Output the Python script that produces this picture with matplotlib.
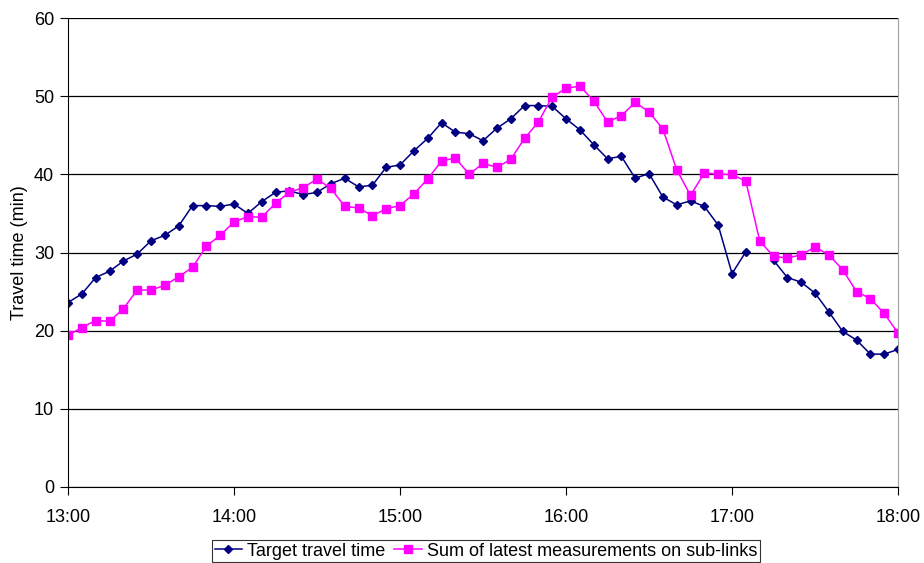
import numpy as np
import matplotlib.pyplot as plt
from matplotlib.ticker import FuncFormatter

plt.rcParams['font.family'] = ['Liberation Sans', 'DejaVu Sans']

# minutes after 13:00, one point every 5 minutes
minutes = np.arange(0, 301, 5)

target = [23.6, 24.7, 26.8, 27.6, 28.9, 29.8, 31.5, 32.2, 33.4, 36.0, 36.0, 35.9,
          36.2, 35.0, 36.5, 37.7, 37.9, 37.4, 37.7, 38.8, 39.5, 38.4, 38.6, 40.9,
          41.2, 43.0, 44.6, 46.6, 45.4, 45.2, 44.3, 45.9, 47.1, 48.8, 48.8, 48.7,
          47.1, 45.7, 43.8, 42.0, 42.3, 39.5, 40.1, 37.1, 36.1, 36.6, 35.9, 33.5,
          27.3, 30.1, np.nan, 29.0, 26.8, 26.2, 24.8, 22.4, 19.9, 18.8, 17.0, 17.0,
          17.6]

sublinks = [19.4, 20.4, 21.3, 21.2, 22.8, 25.2, 25.2, 25.8, 26.9, 28.1, 30.8, 32.2,
            33.9, 34.6, 34.5, 36.3, 37.7, 38.3, 39.4, 38.2, 35.9, 35.7, 34.7, 35.6,
            36.0, 37.5, 39.4, 41.7, 42.1, 40.0, 41.4, 40.9, 41.9, 44.6, 46.7, 49.9,
            51.0, 51.3, 49.4, 46.7, 47.5, 49.2, 48.0, 45.8, 40.6, 37.3, 40.2, 40.0,
            40.0, 39.1, 31.5, 29.5, 29.3, 29.7, 30.7, 29.7, 27.8, 25.0, 24.1, 22.2,
            19.7]

fig = plt.figure(figsize=(9.24, 5.63), dpi=100)
ax = fig.add_axes([0.0736, 0.135, 0.8983, 0.833])

ax.plot(minutes, target, color='#000080', marker='D', markersize=4.5, linewidth=1.1,
        label='Target travel time')
ax.plot(minutes, sublinks, color='#FF00FF', marker='s', markersize=6, linewidth=1.1,
        label='Sum of latest measurements on sub-links')

ax.set_xlim(0, 300)
ax.set_ylim(0, 60)
ax.set_xticks(np.arange(0, 301, 60))
ax.xaxis.set_major_formatter(FuncFormatter(lambda v, p: '%d:%02d' % (13 + int(v) // 60, int(v) % 60)))
ax.set_yticks(np.arange(0, 61, 10))
ax.yaxis.grid(True, color='black', linewidth=0.9)
ax.set_axisbelow(True)

ax.spines['top'].set_visible(False)
ax.spines['right'].set_color('#a0a0a0')
ax.tick_params(axis='both', direction='out', length=6, labelsize=13, color='black')
ax.tick_params(axis='x', pad=10)
ax.tick_params(axis='y', pad=4)
ax.set_ylabel('Travel time (min)', fontsize=13, labelpad=4)

leg = fig.legend(loc='center', ncol=2, fontsize=13,
                 frameon=True, fancybox=False, edgecolor='black', handlelength=1.5,
                 handletextpad=0.3, columnspacing=0.5, borderpad=0.15)
leg.set_bbox_to_anchor((0.526, 0.021), transform=fig.transFigure)
leg.get_frame().set_linewidth(0.8)

fig.savefig('out.png', dpi=100)
